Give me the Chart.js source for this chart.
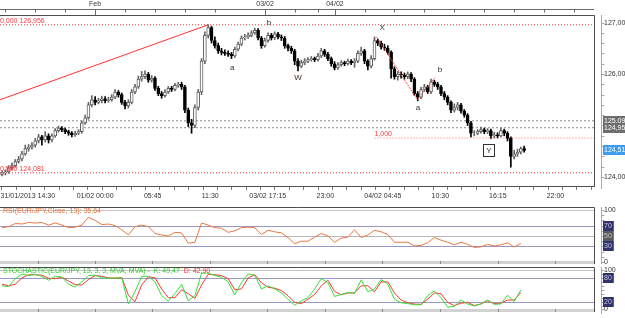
<!DOCTYPE html>
<html>
<head>
<meta charset="utf-8">
<script src="https://cdn.jsdelivr.net/npm/chart.js@4.4.1/dist/chart.umd.min.js"></script>
<style>
html, body { margin: 0; padding: 0; background: #fff; }
#wrap { position: relative; width: 625px; height: 318px; overflow: hidden; background: #fff; }
.pane { position: absolute; left: 0; width: 625px; }
</style>
</head>
<body>
<div id="wrap">
  <div class="pane" style="top:0;height:206px"><canvas id="priceChart"></canvas></div>
  <div class="pane" style="top:204px;height:60px"><canvas id="rsiChart"></canvas></div>
  <div class="pane" style="top:264px;height:54px"><canvas id="stochChart"></canvas></div>
</div>
<script>
// EUR/JPY bars, one per slot on the time axis (index 0 = first bar)
const firstOpen = 124.05;
const closes = [
  124.08,124.10,124.18,124.22,124.30,124.35,124.45,124.55,124.58,124.62,
  124.70,124.78,124.72,124.80,124.72,124.80,124.90,124.95,124.92,124.88,
  124.85,124.82,124.85,124.88,125.05,125.15,125.40,125.50,125.45,125.48,
  125.52,125.48,125.50,125.55,125.65,125.60,125.45,125.38,125.45,125.65,
  125.75,125.90,125.95,126.00,125.88,125.92,125.72,125.62,125.58,125.65,
  125.72,125.70,125.78,125.80,125.75,125.30,125.05,125.00,125.35,125.65,
  126.25,126.75,126.90,126.65,126.55,126.45,126.42,126.40,126.38,126.35,
  126.48,126.58,126.70,126.72,126.75,126.80,126.85,126.70,126.55,126.65,
  126.75,126.70,126.78,126.72,126.70,126.55,126.50,126.45,126.25,126.15,
  126.22,126.25,126.28,126.30,126.28,126.35,126.45,126.38,126.30,126.20,
  126.12,126.18,126.22,126.20,126.25,126.22,126.25,126.40,126.45,126.25,
  126.15,126.30,126.65,126.60,126.52,126.50,126.42,126.10,125.95,126.00,
  125.98,125.95,126.00,125.90,125.62,125.55,125.70,125.75,125.65,125.85,
  125.80,125.75,125.62,125.55,125.45,125.30,125.35,125.40,125.28,125.20,
  125.05,124.85,124.85,124.88,124.92,124.88,124.90,124.80,124.82,124.80,
  124.90,124.85,124.75,124.40,124.45,124.48,124.55,124.517
];
const highs = [
  124.12,124.14,124.22,124.27,124.34,124.40,124.50,124.62,124.63,124.67,
  124.75,124.83,124.81,124.88,124.84,124.84,124.94,124.99,124.98,124.95,
  124.91,124.88,124.89,124.92,125.09,125.20,125.45,125.58,125.56,125.53,
  125.57,125.56,125.55,125.60,125.70,125.68,125.63,125.49,125.50,125.70,
  125.80,125.96,126.05,126.06,126.03,125.97,125.95,125.76,125.66,125.70,
  125.76,125.76,125.82,125.84,125.84,125.78,125.34,125.12,125.40,125.70,
  126.30,126.82,126.956,126.93,126.72,126.60,126.50,126.47,126.45,126.42,
  126.52,126.62,126.74,126.77,126.80,126.84,126.89,126.88,126.73,126.70,
  126.80,126.79,126.82,126.81,126.76,126.73,126.58,126.54,126.48,126.30,
  126.27,126.30,126.32,126.34,126.33,126.40,126.50,126.48,126.42,126.33,
  126.24,126.22,126.26,126.25,126.29,126.28,126.30,126.45,126.52,126.48,
  126.28,126.36,126.72,126.68,126.64,126.58,126.55,126.45,126.14,126.05,
  126.04,126.02,126.04,126.03,125.93,125.66,125.74,125.80,125.78,125.90,
  125.88,125.84,125.78,125.66,125.58,125.48,125.42,125.45,125.43,125.31,
  125.23,125.08,124.90,124.92,124.97,124.95,124.94,124.93,124.87,124.86,
  124.95,124.93,124.88,124.78,124.52,124.54,124.58,124.60
];
const lows = [
  124.02,124.04,124.07,124.14,124.19,124.27,124.31,124.42,124.50,124.54,
  124.58,124.66,124.62,124.68,124.66,124.68,124.77,124.87,124.88,124.84,
  124.81,124.78,124.79,124.82,124.85,125.02,125.12,125.36,125.40,125.42,
  125.44,125.44,125.45,125.47,125.52,125.55,125.41,125.32,125.34,125.42,
  125.62,125.72,125.86,125.91,125.84,125.84,125.68,125.58,125.53,125.55,
  125.62,125.66,125.67,125.74,125.70,125.25,124.98,124.85,124.96,125.30,
  125.60,126.20,126.70,126.60,126.50,126.40,126.37,126.36,126.34,126.30,
  126.32,126.45,126.55,126.66,126.69,126.72,126.77,126.66,126.50,126.52,
  126.62,126.66,126.67,126.68,126.65,126.50,126.45,126.40,126.18,126.06,
  126.12,126.18,126.22,126.25,126.24,126.25,126.32,126.34,126.26,126.15,
  126.08,126.09,126.15,126.16,126.17,126.18,126.13,126.22,126.36,126.20,
  126.08,126.12,126.27,126.55,126.48,126.46,126.38,125.92,125.90,125.88,
  125.92,125.90,125.91,125.85,125.58,125.48,125.52,125.66,125.62,125.62,
  125.76,125.70,125.58,125.50,125.40,125.25,125.26,125.30,125.24,125.16,
  125.00,124.78,124.80,124.82,124.85,124.84,124.84,124.75,124.76,124.76,
  124.78,124.80,124.70,124.19,124.35,124.40,124.45,124.48
];

// oscillators, read every second bar
const oscStep = 2;
const rsi = [
  66,68,74,73,76,75,76,71,75,71, 66,67,71,86,80,72,73,70,62,52,
  68,71,68,55,52,50,57,56,36,38, 75,71,66,65,57,60,66,67,66,53,
  61,58,56,47,35,40,40,48,55,50, 38,46,48,62,47,52,61,58,53,38,
  38,38,31,32,37,47,42,38,33,38, 34,28,29,34,31,33,37,29,35.64
];
const stochK = [
  60,58,78,90,86,89,84,74,84,82, 64,57,70,86,87,80,79,80,80,14,
  45,84,84,70,35,21,40,64,22,35, 92,92,86,82,70,37,68,90,87,52,
  60,52,42,26,11,22,30,52,78,68, 33,38,43,41,75,45,52,76,64,26,
  17,15,12,12,35,47,30,6,8,24, 14,9,14,24,13,14,36,20,49.47
];
const stochD = [
  64,60,64,80,88,88,87,79,78,82, 72,63,62,76,86,84,80,79,81,36,
  20,62,83,80,52,30,30,50,40,28, 62,89,88,86,78,50,52,80,88,68,
  56,54,48,35,18,15,26,38,60,74, 46,37,42,42,60,60,45,70,70,42,
  24,17,14,13,26,42,40,18,10,16, 18,10,14,22,15,16,24,24,42.90
];

// levels and wave marks
const fibLevels = [126.956, 124.081];
const fibLabels = ['0,000 126,956', '0,500 124,081'];
const targetLevel = 124.757, targetFrom = 112, targetLabel = '1,000';
const supportLevels = [125.091, 124.957];
const lastPrice = 124.517;
const trendLine = [{ x: -0.6, y: 125.50 }, { x: 62, y: 126.956 }];
const waveLine = [{ x: 112.6, y: 126.72 }, { x: 124.9, y: 125.50 }, { x: 130.2, y: 125.93 }];
const waveLabels = ['a', 'b', 'W', 'X', 'a', 'b', 'Y'];
const waveAt = [69.2, 80.3, 89.0, 114.3, 125.1, 131.7, 146.4];
const waveLevel = [126.12, 126.99, 125.92, 126.89, 125.34, 126.08, 124.50];

// axis labels
const timeLabels = ['31/01/2013 14:30', '01/02 00:00', '05:45', '11:30', '03/02 17:15', '23:00', '04/02 04:45', '10:30', '16:15', '22:00'];
const timeTicks = [10.7, 28.0, 45.2, 62.5, 79.8, 97.1, 114.4, 131.7, 149.0, 166.3];
const dayLabels = ['Feb', '03/02', '04/02'];
const dayTicks = [28.0, 79.1, 100.1];
const hourTicks = [1, 10, 19, 37, 46, 55, 64, 88, 95, 109, 118, 127, 136, 145, 154, 163, 172];
const priceLabels = [127, 126, 125, 124];
const rsiLevels = [100, 70, 50, 30, 0];
const stochLevels = [100, 80, 20, 0];

const X_MIN = -0.6, X_MAX = 178;
const FONT = '"Liberation Sans", Arial, sans-serif';
Chart.defaults.font.family = FONT;
Chart.defaults.font.size = 7;
Chart.defaults.animation = false;
Chart.defaults.plugins.legend.display = false;
Chart.defaults.plugins.tooltip.enabled = false;

const fmt = (v, d) => v.toFixed(d).replace('.', ',');

// value box on the right axis; w = null -> run to the canvas edge
function tag(ctx, x, py, text, bg, fg, w) {
  const bw = w || (625 - x);
  ctx.fillStyle = bg;
  ctx.fillRect(x, Math.round(py) - 5, bw, 10);
  ctx.fillStyle = fg;
  ctx.textAlign = 'left';
  ctx.textBaseline = 'middle';
  ctx.fillText(text, x + 1, Math.round(py) + 0.5);
}

function rightAxis(chart, from, to, step) {
  const { ctx, chartArea: a, scales: { y } } = chart;
  const ax = Math.round(a.right) + 7.5;
  ctx.strokeStyle = '#a8a8a8';
  ctx.lineWidth = 1;
  ctx.beginPath();
  ctx.moveTo(ax, a.top);
  ctx.lineTo(ax, a.bottom + 3);
  for (let k = Math.round(from / step); k <= Math.round(to / step); k++) {
    const py = Math.round(y.getPixelForValue(k * step)) + 0.5;
    if (py < a.top || py > a.bottom + 1) continue;
    ctx.moveTo(ax, py);
    ctx.lineTo(ax + 3, py);
  }
  ctx.stroke();
}

// ---------- price pane ----------
const opens = closes.map((c, i) => i === 0 ? firstOpen : closes[i - 1]);
const isUp = closes.map((c, i) => c >= opens[i]);

const xTickList = [];
const tStep = (timeTicks[1] - timeTicks[0]) / 4;
for (let v = timeTicks[0] - 2 * tStep; v <= X_MAX; v += tStep) xTickList.push(v);
const timeLabelAt = v => {
  const j = timeTicks.findIndex(t => Math.abs(t - v) < 0.3);
  if (j < 0) return '';
  // the first label hugs the left edge, like the original platform does
  return j === 0 ? timeLabels[0] + ' '.repeat(10) : timeLabels[j];
};

const priceDecor = {
  id: 'priceDecor',
  afterDraw(chart) {
    const { ctx, chartArea: a, scales: { x, y } } = chart;
    ctx.save();
    ctx.font = '7px ' + FONT;
    // frame
    ctx.strokeStyle = '#4e4e4e';
    ctx.lineWidth = 1;
    ctx.beginPath();
    ctx.moveTo(0, Math.round(a.top) + 0.5);
    ctx.lineTo(Math.round(a.right) + 0.5, Math.round(a.top) + 0.5);
    ctx.lineTo(Math.round(a.right) + 0.5, a.bottom);
    ctx.stroke();
    // top date axis
    ctx.strokeStyle = '#6a6a6a';
    ctx.beginPath();
    ctx.moveTo(0, 9.5);
    ctx.lineTo(a.right, 9.5);
    hourTicks.forEach(v => {
      const px = Math.round(x.getPixelForValue(v)) + 0.5;
      ctx.moveTo(px, 9.5); ctx.lineTo(px, 12.5);
    });
    dayTicks.forEach(v => {
      const px = Math.round(x.getPixelForValue(v)) + 0.5;
      ctx.moveTo(px, 9.5); ctx.lineTo(px, a.top);
    });
    ctx.stroke();
    ctx.fillStyle = '#333';
    ctx.textAlign = 'center';
    ctx.textBaseline = 'middle';
    dayLabels.forEach((t, i) => ctx.fillText(t, x.getPixelForValue(dayTicks[i]), 4.5));
    // price axis
    rightAxis(chart, 123.8, 127.2, 0.2);
    ctx.fillStyle = '#333';
    ctx.textAlign = 'left';
    priceLabels.forEach(v => ctx.fillText(fmt(v, 2), Math.round(a.right) + 10, Math.round(y.getPixelForValue(v)) + 0.5));
    supportLevels.forEach(v => tag(ctx, Math.round(a.right) + 9, y.getPixelForValue(v), fmt(v, 3), '#6e6e6e', '#ffffff'));
    tag(ctx, Math.round(a.right) + 9, y.getPixelForValue(lastPrice), fmt(lastPrice, 3), '#3d9cf0', '#ffffff');
    // level captions
    ctx.fillStyle = '#ff3a3a';
    ctx.textAlign = 'left';
    fibLevels.forEach((v, i) => ctx.fillText(fibLabels[i], 0, y.getPixelForValue(v) - 4));
    ctx.fillText(targetLabel, x.getPixelForValue(targetFrom), y.getPixelForValue(targetLevel) - 4);
    // wave marks
    ctx.font = '8px ' + FONT;
    ctx.textAlign = 'center';
    waveLabels.forEach((t, i) => {
      const px = x.getPixelForValue(waveAt[i]);
      const py = y.getPixelForValue(waveLevel[i]);
      if (t === 'Y') {
        ctx.fillStyle = '#fff';
        ctx.fillRect(Math.round(px) - 5.5, Math.round(py) - 6.5, 11, 12);
        ctx.strokeStyle = '#333';
        ctx.strokeRect(Math.round(px) - 5.5, Math.round(py) - 6.5, 11, 12);
      }
      ctx.fillStyle = '#3a2a1e';
      ctx.fillText(t, px, py);
    });
    ctx.restore();
  }
};

const levelSet = (pts, color, dash) => ({
  type: 'line', data: pts, borderColor: color, borderWidth: 1, borderDash: dash,
  pointRadius: 0, order: 3
});

new Chart(document.getElementById('priceChart'), {
  type: 'bar',
  data: {
    datasets: [
      { type: 'line', data: trendLine, borderColor: '#ff3030', borderWidth: 1, pointRadius: 0, order: 0 },
      { type: 'line', data: waveLine, borderColor: '#ff4a4a', borderWidth: 1, borderDash: [2, 1], pointRadius: 0, order: 0 },
      {
        data: closes.map((c, i) => ({ x: i, y: [opens[i], c] })),
        backgroundColor: isUp.map(u => u ? '#ffffff' : '#000000'),
        borderColor: isUp.map(u => u ? '#606060' : '#000000'),
        borderWidth: 1, borderSkipped: false, barThickness: 3, grouped: false, order: 1
      },
      {
        data: closes.map((c, i) => ({ x: i, y: [lows[i], highs[i]] })),
        backgroundColor: isUp.map(u => u ? '#666666' : '#000000'),
        barThickness: 1, grouped: false, order: 2
      },
      ...fibLevels.map(v => levelSet([{ x: X_MIN, y: v }, { x: X_MAX, y: v }], '#ff3030', [1, 2])),
      ...supportLevels.map(v => levelSet([{ x: X_MIN, y: v }, { x: X_MAX, y: v }], '#8a8a8a', [2, 2])),
      levelSet([{ x: targetFrom, y: targetLevel }, { x: X_MAX, y: targetLevel }], '#ff6a6a', [1, 2])
    ]
  },
  options: {
    responsive: true,
    maintainAspectRatio: false,
    layout: { padding: { top: 15, right: 31, left: 0, bottom: 0 } },
    scales: {
      x: {
        type: 'linear', min: X_MIN, max: X_MAX, offset: false,
        afterBuildTicks: s => { s.ticks = xTickList.map(v => ({ value: v })); },
        afterFit: s => { s.height = 20; },
        grid: { drawOnChartArea: false, tickLength: 4, color: '#7a7a7a' },
        border: { color: '#4e4e4e' },
        ticks: { autoSkip: false, maxRotation: 0, padding: 2, color: '#333', font: { size: 7 }, callback: v => timeLabelAt(v) }
      },
      y: { min: 123.825, max: 127.146, display: false }
    }
  },
  plugins: [priceDecor]
});

// ---------- oscillator panes ----------
const levelStyle = {
  100: { line: '#c4c4c4', bg: null },
  80: { line: '#9898c4', bg: '#32326e' },
  70: { line: '#9898c4', bg: '#32326e' },
  50: { line: '#b8b8b8', bg: '#5a5a5a' },
  30: { line: '#9898c4', bg: '#32326e' },
  20: { line: '#9898c4', bg: '#32326e' },
  0: { line: '#c4c4c4', bg: null }
};

function oscDecor(id, levels, title) {
  return {
    id,
    beforeDatasetsDraw(chart) {
      const { ctx, chartArea: a, scales: { y } } = chart;
      ctx.save();
      ctx.lineWidth = 1;
      levels.forEach(v => {
        const py = Math.round(y.getPixelForValue(v)) + 0.5;
        ctx.strokeStyle = levelStyle[v].line;
        ctx.beginPath();
        ctx.moveTo(0, py);
        ctx.lineTo(a.right, py);
        ctx.stroke();
      });
      ctx.restore();
    },
    afterDraw(chart) {
      const { ctx, chartArea: a, scales: { x, y } } = chart;
      ctx.save();
      ctx.font = '7px ' + FONT;
      // bottom time band
      ctx.fillStyle = '#d2d2d2';
      ctx.fillRect(0, Math.round(a.bottom) - 2, Math.round(a.right), 3);
      ctx.strokeStyle = '#8a8a8a';
      ctx.beginPath();
      timeTicks.forEach(v => {
        const px = Math.round(x.getPixelForValue(v)) + 0.5;
        ctx.moveTo(px, Math.round(a.bottom) - 2); ctx.lineTo(px, Math.round(a.bottom) + 1);
      });
      ctx.stroke();
      // frame
      ctx.strokeStyle = '#4e4e4e';
      ctx.beginPath();
      ctx.moveTo(0, Math.round(a.top) + 0.5);
      ctx.lineTo(Math.round(a.right) + 0.5, Math.round(a.top) + 0.5);
      ctx.lineTo(Math.round(a.right) + 0.5, a.bottom + 1);
      ctx.stroke();
      rightAxis(chart, 0, 100, 10);
      levels.forEach(v => {
        const py = y.getPixelForValue(v);
        const txt = String(v);
        if (levelStyle[v].bg) {
          tag(ctx, Math.round(a.right) + 9, py, txt, levelStyle[v].bg, '#c8c8dc', ctx.measureText(txt).width + 3);
        } else {
          ctx.fillStyle = '#333';
          ctx.textAlign = 'left';
          ctx.textBaseline = 'middle';
          ctx.fillText(txt, Math.round(a.right) + 10, Math.round(py) + 0.5);
        }
      });
      // caption
      let tx = 3;
      ctx.textAlign = 'left';
      ctx.textBaseline = 'middle';
      title.forEach(seg => {
        ctx.fillStyle = seg.color;
        ctx.fillText(seg.text, tx, a.top + 4.5);
        tx += ctx.measureText(seg.text).width;
      });
      ctx.restore();
    }
  };
}

const oscOptions = (yMin, yMax, pad) => ({
  responsive: true,
  maintainAspectRatio: false,
  layout: { padding: { top: 3, bottom: pad, right: 31, left: 0 } },
  elements: { line: { borderWidth: 1, tension: 0 }, point: { radius: 0 } },
  scales: {
    x: { type: 'linear', min: X_MIN, max: X_MAX, display: false },
    y: { min: yMin, max: yMax, display: false }
  }
});

new Chart(document.getElementById('rsiChart'), {
  type: 'line',
  data: { datasets: [{ data: rsi.map((v, k) => ({ x: k * oscStep, y: v })), borderColor: '#ec7640' }] },
  options: oscOptions(-1.92, 105.77, 1),
  plugins: [oscDecor('rsiDecor', rsiLevels, [{ text: 'RSI(EUR/JPY,Close, 13): 35,64', color: '#e8703a' }])]
});

new Chart(document.getElementById('stochChart'), {
  type: 'line',
  data: {
    datasets: [
      { data: stochK.map((v, k) => ({ x: k * oscStep, y: v })), borderColor: '#35e035' },
      { data: stochD.map((v, k) => ({ x: k * oscStep, y: v })), borderColor: '#ff3535' }
    ]
  },
  options: oscOptions(-3.8, 107.6, 7),
  plugins: [oscDecor('stochDecor', stochLevels, [
    { text: 'STOCHASTIC(EUR/JPY, 13, 3, 3, MVA, MVA) -  K: 49,47', color: '#2ccc2c' },
    { text: '  D: 42,90', color: '#ff3030' }
  ])]
});
</script>
</body>
</html>
